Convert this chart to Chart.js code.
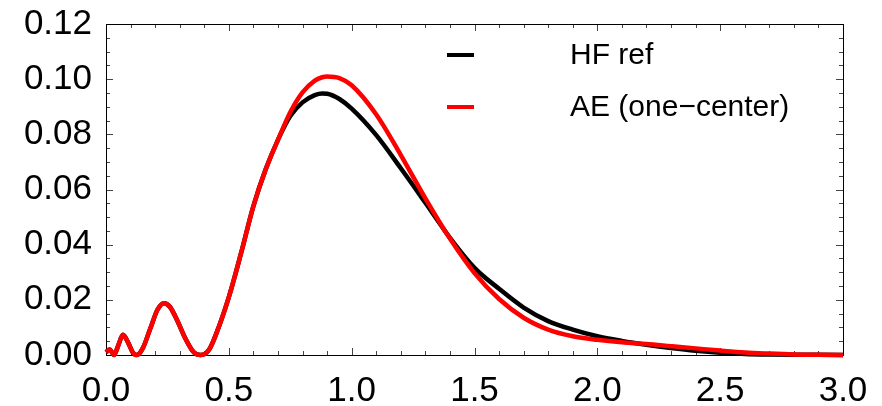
<!DOCTYPE html>
<html><head><meta charset="utf-8">
<script src="https://cdn.jsdelivr.net/npm/chart.js@4.4.0/dist/chart.umd.min.js"></script>
<style>html,body{margin:0;padding:0;background:#fff}#wrap{width:882px;height:406px}</style>
</head><body><div id="wrap"><canvas id="c" width="882" height="406"></canvas></div>
<script>
// ---- data ----
const radius = [0, 0.015, 0.033, 0.05, 0.069, 0.09, 0.11, 0.126, 0.15, 0.18, 0.21, 0.236, 0.26, 0.29, 0.32, 0.35, 0.37, 0.386, 0.42, 0.45, 0.5, 0.55, 0.6, 0.65, 0.7, 0.75, 0.8, 0.85, 0.88, 0.9, 0.95, 1.0, 1.1, 1.2, 1.3, 1.4, 1.5, 1.6, 1.7, 1.8, 1.9, 2.0, 2.1, 2.2, 2.3, 2.4, 2.5, 2.6, 2.7, 2.8, 2.9, 3.0];
const hfRef = [0.001, 0.002, 0.0, 0.0035, 0.0073, 0.0045, 0.0008, 0.0, 0.0025, 0.0095, 0.0165, 0.0188, 0.0175, 0.0125, 0.0065, 0.0018, 0.0002, 0.0, 0.002, 0.008, 0.021, 0.037, 0.054, 0.0673, 0.078, 0.0866, 0.0916, 0.0942, 0.0948, 0.0947, 0.0928, 0.0893, 0.0797, 0.0677, 0.0552, 0.0425, 0.0316, 0.0240, 0.0172, 0.0123, 0.0092, 0.0068, 0.0051, 0.0037, 0.0025, 0.0015, 0.0008, 0.0004, 0.0002, 0.0001, 0.00005, 0.0];
const aeOneCenter = [0.001, 0.002, 0.0, 0.0035, 0.0073, 0.0045, 0.0008, 0.0, 0.0025, 0.0095, 0.0165, 0.0188, 0.0175, 0.0125, 0.0065, 0.0018, 0.0002, 0.0, 0.002, 0.008, 0.021, 0.037, 0.054, 0.0673, 0.078, 0.088, 0.0952, 0.0995, 0.1007, 0.101, 0.1004, 0.0978, 0.0872, 0.0725, 0.0568, 0.0422, 0.0297, 0.0203, 0.0135, 0.0092, 0.0068, 0.0055, 0.0046, 0.0040, 0.0032, 0.0024, 0.0016, 0.0009, 0.0005, 0.0002, 0.0001, 0.0];
const seriesLabels = ['HF ref', 'AE (one\u2212center)'];
const xTicks = [0.0, 0.5, 1.0, 1.5, 2.0, 2.5, 3.0];
const yTicks = [0.00, 0.02, 0.04, 0.06, 0.08, 0.10, 0.12];
const xMinorStep = 0.1;
const yMinorStep = 0.005;

const FONT = '"Liberation Sans", Arial, Helvetica, sans-serif';

const framePlugin = {
  id: 'frame',
  beforeDatasetsDraw(chart) {
    const {ctx, chartArea: a, scales: {x, y}} = chart;
    ctx.save();
    ctx.strokeStyle = '#444';
    ctx.lineWidth = 1;
    ctx.beginPath();
    const nx = Math.round((x.max - x.min) / xMinorStep);
    for (let i = 0; i <= nx; i++) {
      const v = x.min + i * xMinorStep;
      const px = Math.round(x.getPixelForValue(v)) + 0.5;
      const major = xTicks.some(t => Math.abs(t - v) < 1e-6);
      const len = major ? 7 : 4;
      ctx.moveTo(px, a.bottom); ctx.lineTo(px, a.bottom - len);
      ctx.moveTo(px, a.top); ctx.lineTo(px, a.top + len);
    }
    const ny = Math.round((y.max - y.min) / yMinorStep);
    for (let i = 0; i <= ny; i++) {
      const v = y.min + i * yMinorStep;
      const py = Math.round(y.getPixelForValue(v)) + 0.5;
      const major = yTicks.some(t => Math.abs(t - v) < 1e-6);
      const len = major ? 7 : 4;
      ctx.moveTo(a.left, py); ctx.lineTo(a.left + len, py);
      ctx.moveTo(a.right, py); ctx.lineTo(a.right - len, py);
    }
    ctx.stroke();
    ctx.strokeStyle = '#000';
    ctx.strokeRect(Math.round(a.left) + 0.5, Math.round(a.top) + 0.5, Math.round(a.right - a.left), Math.round(a.bottom - a.top));
    ctx.restore();
  }
};

const legendPlugin = {
  id: 'customLegend',
  afterDatasetsDraw(chart) {
    const {ctx} = chart;
    ctx.save();
    const rows = [{ds: chart.data.datasets[1], y: 55}, {ds: chart.data.datasets[0], y: 107}];
    rows.forEach(r => {
      ctx.strokeStyle = r.ds.borderColor;
      ctx.lineWidth = 4;
      ctx.beginPath();
      ctx.moveTo(447, r.y); ctx.lineTo(474, r.y);
      ctx.stroke();
      ctx.fillStyle = '#000';
      ctx.font = '30px ' + FONT;
      ctx.textBaseline = 'middle';
      ctx.textAlign = 'left';
      ctx.fillText(r.ds.label, 570, r.y + 1);
    });
    ctx.restore();
  }
};

const toPoints = (xs, ys) => xs.map((v, i) => ({x: v, y: ys[i]}));

new Chart(document.getElementById('c'), {
  type: 'line',
  data: {
    datasets: [
      {label: seriesLabels[1], data: toPoints(radius, aeOneCenter), borderColor: '#ff0000', borderWidth: 4.5, order: 0},
      {label: seriesLabels[0], data: toPoints(radius, hfRef), borderColor: '#000000', borderWidth: 4.5, order: 1}
    ]
  },
  options: {
    responsive: false,
    devicePixelRatio: 1,
    animation: false,
    parsing: false,
    elements: {
      point: {radius: 0},
      line: {cubicInterpolationMode: 'monotone', fill: false}
    },
    datasets: {line: {clip: 6}},
    layout: {padding: {top: 24, right: 39, left: 0, bottom: 0}},
    plugins: {legend: {display: false}, tooltip: {enabled: false}},
    scales: {
      x: {
        type: 'linear', min: 0, max: 3,
        afterBuildTicks: s => { s.ticks = xTicks.map(v => ({value: v})); },
        afterFit: s => { s.height = 51; s.paddingLeft = 0; s.paddingRight = 0; },
        grid: {display: false, drawTicks: false},
        border: {display: false},
        ticks: {font: {family: FONT, size: 35}, color: '#000', padding: 15, maxRotation: 0, autoSkip: false,
                callback: v => Number(v).toFixed(1)}
      },
      y: {
        type: 'linear', min: 0, max: 0.12,
        afterBuildTicks: s => { s.ticks = yTicks.map(v => ({value: v})); },
        afterFit: s => { s.width = 106; s.paddingTop = 0; s.paddingBottom = 0; },
        grid: {display: false, drawTicks: false},
        border: {display: false},
        ticks: {font: {family: FONT, size: 35}, color: '#000', padding: 14, autoSkip: false,
                callback: v => Number(v).toFixed(2)}
      }
    }
  },
  plugins: [framePlugin, legendPlugin]
});
</script></body></html>
